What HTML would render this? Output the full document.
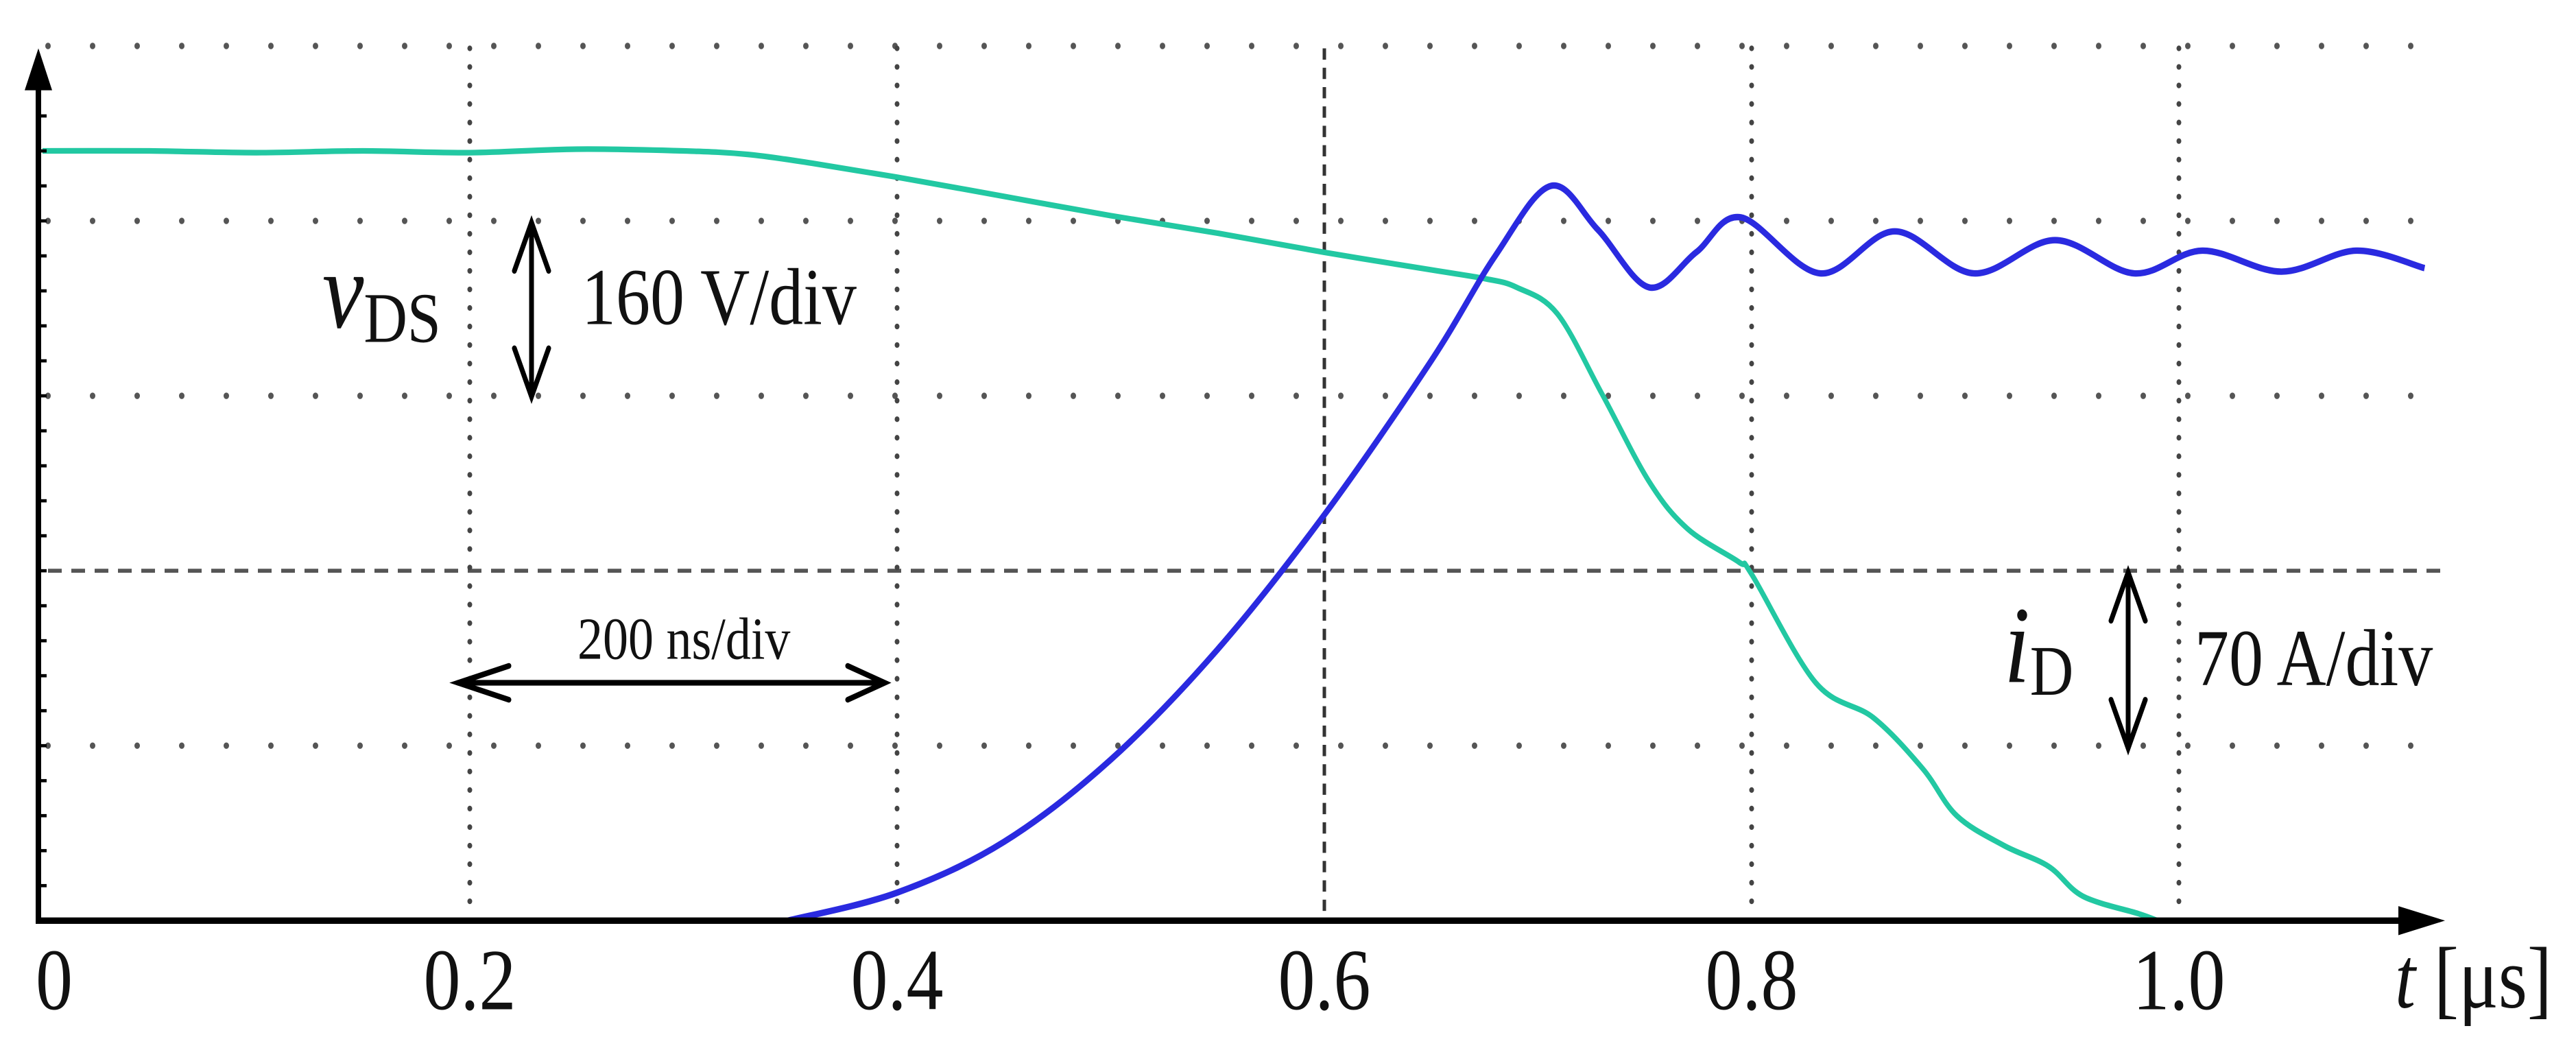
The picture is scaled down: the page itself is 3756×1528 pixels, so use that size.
<!DOCTYPE html>
<html><head><meta charset="utf-8"><style>
html,body{margin:0;padding:0;background:#fff;}
svg{display:block;}
text{font-family:"Liberation Serif",serif;fill:#111;}
</style></head><body>
<svg id="chart" width="3756" height="1528" viewBox="0 0 3756 1300" preserveAspectRatio="none" xmlns="http://www.w3.org/2000/svg">
<g id="grid"></g>
<g id="series"></g>
<g id="axes">
  <line x1="56" y1="1142" x2="3500" y2="1142" stroke="#000" stroke-width="8"/>
  <polygon points="3497,1124 3565,1142 3497,1160" fill="#000"/>
  <line x1="56" y1="1146" x2="56" y2="105" stroke="#000" stroke-width="8"/>
  <polygon points="36,112 56,60 76,112" fill="#000"/>
</g>
<g id="labels">
  <text x="3492" y="1250" font-size="108"><tspan font-style="italic">t</tspan> [μs]</text>
  <text x="470" y="406" font-size="136" font-style="italic">v<tspan font-style="normal" font-size="88" dy="18">DS</tspan></text>
  <text x="848" y="402" font-size="100">160 V/div</text>
  <text x="842" y="817" font-size="74">200 ns/div</text>
  <text x="2922" y="846" font-size="136" font-style="italic">i<tspan font-style="normal" font-size="88" dy="16">D</tspan></text>
  <text x="3200" y="850" font-size="100">70 A/div</text>
  <g stroke="#000" stroke-width="7" fill="none" stroke-linecap="round">
    <line x1="775" y1="276" x2="775" y2="489"/>
    <polyline points="750,336 775,276 800,336"/>
    <polyline points="750,432 775,492 800,432"/>
  </g>
  <g stroke="#000" stroke-width="7" fill="none" stroke-linecap="round">
    <line x1="668" y1="847" x2="1288" y2="847"/>
    <polyline points="742,826 668,847 742,868"/>
    <polyline points="1236,826 1290,847 1236,868"/>
  </g>
  <g stroke="#000" stroke-width="7" fill="none" stroke-linecap="round">
    <line x1="3103" y1="712" x2="3103" y2="926"/>
    <polyline points="3078,770 3103,710 3128,770"/>
    <polyline points="3078,868 3103,928 3128,868"/>
  </g>
</g>
<g id="ticklabels"></g>
</svg>
<script>
// ---- data ----
var xTicks = [0, 0.2, 0.4, 0.6, 0.8, 1.0];
var xTickLabels = ["0", "0.2", "0.4", "0.6", "0.8", "1.0"];
var yGridDivs = [1, 2, 3, 4, 5];
var vdsTime = [0,0.05,0.1,0.15,0.2,0.25,0.3,0.33,0.36,0.4,0.45,0.5,0.55,0.6,0.65,0.675,0.69,0.709,0.73,0.752,0.77,0.794,0.8,0.83,0.857,0.88,0.896,0.918,0.939,0.955,0.981,0.99];
var vdsDiv  = [4.40,4.40,4.39,4.40,4.39,4.41,4.40,4.38,4.33,4.25,4.14,4.03,3.93,3.82,3.72,3.67,3.62,3.47,3.01,2.51,2.24,2.05,1.98,1.36,1.16,0.87,0.60,0.43,0.31,0.14,0.04,0];
var idTime = [0.349,0.4,0.45,0.5,0.55,0.6,0.65,0.68,0.706,0.728,0.752,0.774,0.795,0.832,0.867,0.904,0.942,0.979,1.011,1.048,1.083,1.115];
var idDiv  = [0,0.16,0.45,0.92,1.55,2.32,3.2,3.8,4.20,3.95,3.62,3.82,4.02,3.70,3.94,3.70,3.89,3.70,3.83,3.71,3.83,3.73];

// ---- axis functions ----
var X0 = 62, XPER = 3115, Y0 = 1142, YDIV = 217;
function sx(t){ return X0 + t * XPER; }
function sy(d){ return Y0 - d * YDIV; }
var NS = "http://www.w3.org/2000/svg";
function mk(tag, attrs, parent){
  var e = document.createElementNS(NS, tag);
  for (var k in attrs) e.setAttribute(k, attrs[k]);
  parent.appendChild(e); return e;
}
var grid = document.getElementById('grid');
var series = document.getElementById('series');
var tl = document.getElementById('ticklabels');
var axes = document.getElementById('axes');

yGridDivs.forEach(function(d){
  var dashed = (d === 2);
  var l = mk('line', {x1: 70, y1: sy(d), x2: 3570, y2: sy(d), stroke: '#555',
    'stroke-width': dashed ? 5 : 8,
    'stroke-dasharray': dashed ? '20 14' : '0 65',
    'stroke-linecap': dashed ? 'butt' : 'round'}, grid);
  
  
});
xTicks.forEach(function(t){
  if (t === 0) return;
  var dashed = Math.abs(t - 0.6) < 1e-6;
  var l = mk('line', {x1: sx(t), y1: 60, x2: sx(t), y2: 1135, stroke: dashed ? '#333' : '#444',
    'stroke-width': dashed ? 5 : 7,
    'stroke-dasharray': dashed ? '14 10' : '0 23',
    'stroke-linecap': dashed ? 'butt' : 'round'}, grid);
  
  
});
for (var i = 1; i <= 23; i++){
  var y = Y0 - i * YDIV / 5;
  var tk = mk('line', {x1: 56, y1: y, x2: 68, y2: y, stroke: '#000', 'stroke-width': 4}, axes);
  
  
}
xTicks.forEach(function(t, i){
  var tx = mk('text', {x: sx(t) + (t === 0 ? -10 : 0), y: 1252, 'font-size': 108, 'text-anchor': t === 0 ? 'start' : 'middle'}, tl);
  tx.textContent = xTickLabels[i];
  
  
});

function smoothPath(xs, ys){
  var p = xs.map(function(t, i){ return [sx(t), sy(ys[i])]; });
  var d = 'M' + p[0][0] + ',' + p[0][1];
  for (var i = 0; i < p.length - 1; i++){
    var p0 = p[Math.max(0, i-1)], p1 = p[i], p2 = p[i+1], p3 = p[Math.min(p.length-1, i+2)];
    var c1x = p1[0] + (p2[0]-p0[0])/6, c1y = p1[1] + (p2[1]-p0[1])/6;
    var c2x = p2[0] - (p3[0]-p1[0])/6, c2y = p2[1] - (p3[1]-p1[1])/6;
    d += ' C' + c1x + ',' + c1y + ' ' + c2x + ',' + c2y + ' ' + p2[0] + ',' + p2[1];
  }
  return d;
}
var g1 = mk('path', {d: smoothPath(vdsTime, vdsDiv), fill: 'none', stroke: '#22c8a2', 'stroke-width': 7, 'stroke-linejoin': 'round'}, series);


var b1 = mk('path', {d: smoothPath(idTime, idDiv), fill: 'none', stroke: '#2a2ae0', 'stroke-width': 8, 'stroke-linejoin': 'round'}, series);


</script>
</body></html>
